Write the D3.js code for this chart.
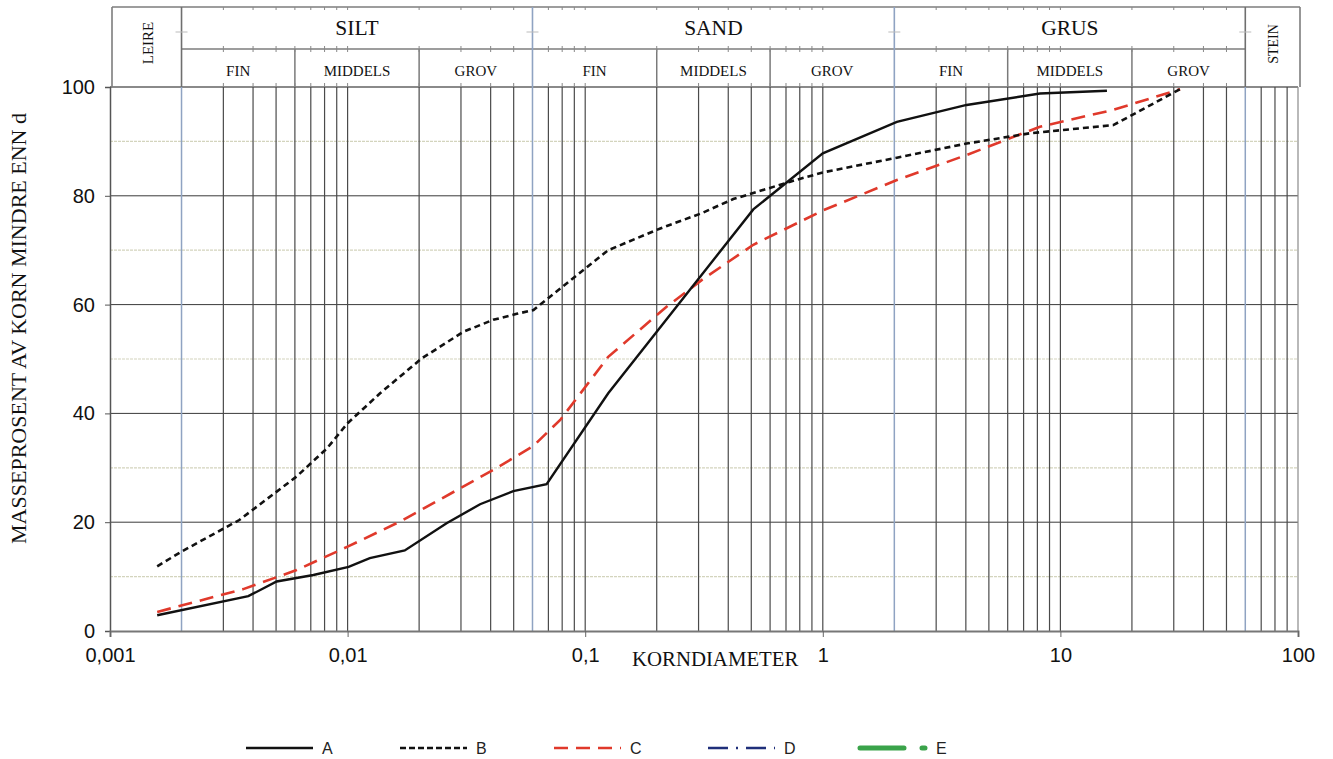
<!DOCTYPE html>
<html>
<head>
<meta charset="utf-8">
<script src="https://cdn.jsdelivr.net/npm/d3@7"></script>
<style>
  html, body { margin: 0; padding: 0; background: #ffffff; }
  svg { display: block; }
</style>
</head>
<body>
<svg id="chart" width="1333" height="759"></svg>
<script>
// ---------------- DATA ----------------
const seriesNames = ["A", "B", "C", "D", "E"];

const diamA = [0.00158, 0.00382, 0.00503, 0.00718, 0.0101, 0.0124, 0.0174, 0.0261, 0.0361, 0.0498, 0.0688, 0.125, 0.51, 1.0, 2.05, 4.03, 8.2, 15.7];
const passA = [2.9, 6.4, 9.1, 10.3, 11.8, 13.4, 14.8, 19.8, 23.3, 25.7, 27.0, 43.7, 77.5, 87.8, 93.6, 96.7, 98.8, 99.3];

const diamB = [0.00158, 0.002, 0.0035, 0.0061, 0.0082, 0.01, 0.0137, 0.0205, 0.0307, 0.041, 0.0515, 0.0606, 0.125, 0.207, 0.309, 0.42, 0.73, 1.0, 2.05, 4.03, 7.45, 16.7, 31.9];
const passB = [11.9, 14.6, 20.4, 28.4, 33.6, 38.2, 43.7, 50.1, 55.0, 57.2, 58.3, 59.0, 70.0, 74.0, 76.8, 79.4, 82.6, 84.3, 87.0, 89.6, 91.5, 93.0, 99.6];

const diamC = [0.00158, 0.00364, 0.0061, 0.01, 0.0166, 0.041, 0.0604, 0.0785, 0.125, 0.22, 0.309, 0.51, 1.0, 2.05, 4.03, 8.2, 16.7, 31.9];
const passC = [3.5, 7.7, 11.2, 15.5, 20.1, 29.6, 34.0, 38.8, 50.4, 59.6, 64.5, 71.0, 77.3, 82.9, 87.5, 92.7, 95.8, 99.6];

const xTickValues = [0.001, 0.01, 0.1, 1, 10, 100];
const xTickLabels = ["0,001", "0,01", "0,1", "1", "10", "100"];
const yTickValues = [0, 20, 40, 60, 80, 100];

// soil classes (Norwegian)
const mainClassNames = ["SILT", "SAND", "GRUS"];
const mainClassBounds = [[0.002, 0.06], [0.06, 2], [2, 60]];
const subClassNames = ["FIN", "MIDDELS", "GROV", "FIN", "MIDDELS", "GROV", "FIN", "MIDDELS", "GROV"];
const subClassBounds = [[0.002, 0.006], [0.006, 0.02], [0.02, 0.06], [0.06, 0.2], [0.2, 0.6], [0.6, 2], [2, 6], [6, 20], [20, 60]];
const classBoundaries = [0.002, 0.06, 2, 60];

const xTitle = "KORNDIAMETER";
const yTitle = "MASSEPROSENT AV KORN MINDRE ENN d";

// ---------------- DRAWING ----------------
const svg = d3.select("#chart");
const pLeft = 110, pRight = 1298, pTop = 87, pBottom = 631;
const hdrTop = 7, hdrMid = 49;

const x = d3.scaleLog().domain([0.001, 100]).range([pLeft, pRight]);
const y = d3.scaleLinear().domain([0, 100]).range([pBottom, pTop]);

// grid values 1..9 per decade
const gridVals = [];
for (let k = -3; k <= 1; k++) for (let m = 1; m <= 9; m++) gridVals.push(+(m * Math.pow(10, k)).toPrecision(3));
gridVals.push(100);
const isBoundary = v => classBoundaries.some(b => Math.abs(b - v) / b < 1e-6);

const serif = "'Liberation Serif', 'Times New Roman', serif";
const sans = "'Liberation Sans', Arial, sans-serif";

// horizontal light grid (odd tens)
const g = svg.append("g");
g.selectAll("line.hl").data(d3.range(10, 100, 20)).join("line")
  .attr("x1", pLeft).attr("x2", pRight)
  .attr("y1", d => y(d)).attr("y2", d => y(d))
  .attr("stroke", "#d3d4bd").attr("stroke-width", 1.2).attr("stroke-dasharray", "3,1");

// horizontal dark grid (even tens)
g.selectAll("line.hd").data(d3.range(20, 101, 20)).join("line")
  .attr("x1", pLeft).attr("x2", pRight)
  .attr("y1", d => y(d)).attr("y2", d => y(d))
  .attr("stroke", d => d === 100 ? "#8a8a8a" : "#3a3a3a").attr("stroke-width", d => d === 100 ? 2 : 1);

// vertical grid
g.selectAll("line.v").data(gridVals.filter(v => v > 0.001 && v < 100)).join("line")
  .attr("x1", d => x(d)).attr("x2", d => x(d))
  .attr("y1", pTop).attr("y2", pBottom)
  .attr("stroke", d => isBoundary(d) ? "#8fa3c2" : "#4a4a4a")
  .attr("stroke-width", d => isBoundary(d) ? 1.5 : 1.2);

// right border
g.append("line").attr("x1", pRight).attr("x2", pRight).attr("y1", pTop).attr("y2", pBottom)
  .attr("stroke", "#8a8a8a").attr("stroke-width", 1.2);

// axes
const yAxis = d3.axisLeft(y).tickValues(yTickValues).tickSize(5).tickPadding(10).tickFormat(d3.format("d"));
const ya = svg.append("g").attr("transform", `translate(${pLeft},0)`).call(yAxis);
ya.select(".domain").attr("stroke", "#555").attr("stroke-width", 1.5);
ya.selectAll(".tick line").attr("stroke", "#555");
ya.selectAll("text").attr("font-family", sans).attr("font-size", 20).attr("fill", "#111");

const xAxis = d3.axisBottom(x).tickValues(xTickValues).tickSize(6).tickPadding(11)
  .tickFormat((d, i) => xTickLabels[i]);
const xa = svg.append("g").attr("transform", `translate(0,${pBottom})`).call(xAxis);
xa.select(".domain").attr("stroke", "#777").attr("stroke-width", 2);
xa.selectAll(".tick line").attr("stroke", "#666");
xa.selectAll("text").attr("font-family", sans).attr("font-size", 20).attr("fill", "#111");

// axis titles
svg.append("text").attr("x", 632).attr("y", 666).text(xTitle)
  .attr("font-family", serif).attr("font-size", 20.8).attr("fill", "#111");
svg.append("text").attr("transform", `translate(26,${(112 + 545) / 2}) rotate(-90)`)
  .attr("text-anchor", "middle").text(yTitle)
  .attr("font-family", serif).attr("font-size", 22).attr("fill", "#111");

// ---------------- HEADER ----------------
const hx0 = 112, hx1 = 1300;
const hg = svg.append("g");
const hs = "#7d7d7d";
hg.append("line").attr("x1", hx0).attr("x2", hx1).attr("y1", hdrTop).attr("y2", hdrTop).attr("stroke", hs).attr("stroke-width", 1.6);
hg.append("line").attr("x1", hx0).attr("x2", hx0).attr("y1", hdrTop).attr("y2", pTop).attr("stroke", hs).attr("stroke-width", 1.6);
hg.append("line").attr("x1", hx1).attr("x2", hx1).attr("y1", hdrTop).attr("y2", pTop).attr("stroke", hs).attr("stroke-width", 1.6);
hg.append("line").attr("x1", x(0.002)).attr("x2", x(60)).attr("y1", hdrMid).attr("y2", hdrMid).attr("stroke", hs).attr("stroke-width", 1.6);
hg.selectAll("line.mb").data(classBoundaries).join("line")
  .attr("x1", d => x(d)).attr("x2", d => x(d)).attr("y1", hdrTop).attr("y2", pTop)
  .attr("stroke", d => (d === 0.002 || d === 60) ? "#6f6f6f" : "#8fa3c2").attr("stroke-width", 1.6);
const subInner = [0.006, 0.02, 0.2, 0.6, 6, 20];
hg.selectAll("line.sb").data(subInner).join("line")
  .attr("x1", d => x(d)).attr("x2", d => x(d)).attr("y1", hdrMid).attr("y2", pTop)
  .attr("stroke", "#7a7a7a").attr("stroke-width", 1.5);
const hticks = gridVals.filter(v => v > 0.002 && v < 60 && !isBoundary(v));
hg.selectAll("line.t1").data(hticks).join("line")
  .attr("x1", d => x(d)).attr("x2", d => x(d)).attr("y1", hdrTop).attr("y2", hdrTop + 3)
  .attr("stroke", "#888").attr("stroke-width", 1);
hg.selectAll("line.t2").data(hticks).join("line")
  .attr("x1", d => x(d)).attr("x2", d => x(d)).attr("y1", hdrMid - 3).attr("y2", hdrMid + 3)
  .attr("stroke", "#888").attr("stroke-width", 1);
hg.selectAll("line.t3").data(hticks).join("line")
  .attr("x1", d => x(d)).attr("x2", d => x(d)).attr("y1", pTop - 4).attr("y2", pTop)
  .attr("stroke", "#888").attr("stroke-width", 1);
hg.selectAll("line.hm").data(classBoundaries).join("line")
  .attr("x1", d => x(d) - 6).attr("x2", d => x(d) + 6).attr("y1", 32).attr("y2", 32)
  .attr("stroke", "#bbb").attr("stroke-width", 1);

hg.selectAll("text.mc").data(mainClassNames).join("text")
  .attr("x", (d, i) => (x(mainClassBounds[i][0]) + x(mainClassBounds[i][1])) / 2)
  .attr("y", 35).attr("text-anchor", "middle").text(d => d)
  .attr("font-family", serif).attr("font-size", 21.5).attr("fill", "#111");
hg.selectAll("text.sc").data(subClassNames).join("text")
  .attr("x", (d, i) => (x(subClassBounds[i][0]) + x(subClassBounds[i][1])) / 2)
  .attr("y", 76).attr("text-anchor", "middle").text(d => d)
  .attr("font-family", serif).attr("font-size", 15).attr("fill", "#111");
hg.append("text").attr("transform", `translate(${(hx0 + x(0.002)) / 2 + 6},${(hdrTop + pTop) / 2 - 4}) rotate(-90)`)
  .attr("text-anchor", "middle").text("LEIRE")
  .attr("font-family", serif).attr("font-size", 15).attr("fill", "#111");
hg.append("text").attr("transform", `translate(${(x(60) + hx1) / 2 + 5},${(hdrTop + pTop) / 2 - 3}) rotate(-90)`)
  .attr("text-anchor", "middle").text("STEIN")
  .attr("font-family", serif).attr("font-size", 14).attr("fill", "#111");

// ---------------- SERIES ----------------
const line = d3.line().x(d => x(d[0])).y(d => y(d[1]));
const mk = (ds, vs) => ds.map((d, i) => [d, vs[i]]);

svg.append("path").datum(mk(diamC, passC)).attr("d", line)
  .attr("fill", "none").attr("stroke", "#e0392b").attr("stroke-width", 2.6)
  .attr("stroke-dasharray", "14,8");
svg.append("path").datum(mk(diamB, passB)).attr("d", line)
  .attr("fill", "none").attr("stroke", "#111").attr("stroke-width", 2.6)
  .attr("stroke-dasharray", "6,4");
svg.append("path").datum(mk(diamA, passA)).attr("d", line)
  .attr("fill", "none").attr("stroke", "#111").attr("stroke-width", 2.4);

// ---------------- LEGEND ----------------
const legY = 748;
const legX = [246, 400, 554, 708, 860];
const lg = svg.append("g");
const legStyles = [
  { stroke: "#111", width: 2.6, dash: null },
  { stroke: "#111", width: 2.6, dash: "6,3" },
  { stroke: "#e0392b", width: 2.6, dash: "14,8" },
  { stroke: "#1f2f7a", width: 2.4, dash: "20,8,2,8" },
  { stroke: "#3aa34a", width: 5, dash: "44,18,3,100" }
];
seriesNames.forEach((n, i) => {
  const st = legStyles[i];
  const l = lg.append("line").attr("x1", legX[i]).attr("x2", legX[i] + 67)
    .attr("y1", legY).attr("y2", legY)
    .attr("stroke", st.stroke).attr("stroke-width", st.width);
  if (st.dash) l.attr("stroke-dasharray", st.dash);
  if (i === 4) l.attr("stroke-linecap", "round");
  lg.append("text").attr("x", legX[i] + 76).attr("y", legY + 6).text(n)
    .attr("font-family", sans).attr("font-size", 16).attr("fill", "#222");
});
</script>
</body>
</html>
